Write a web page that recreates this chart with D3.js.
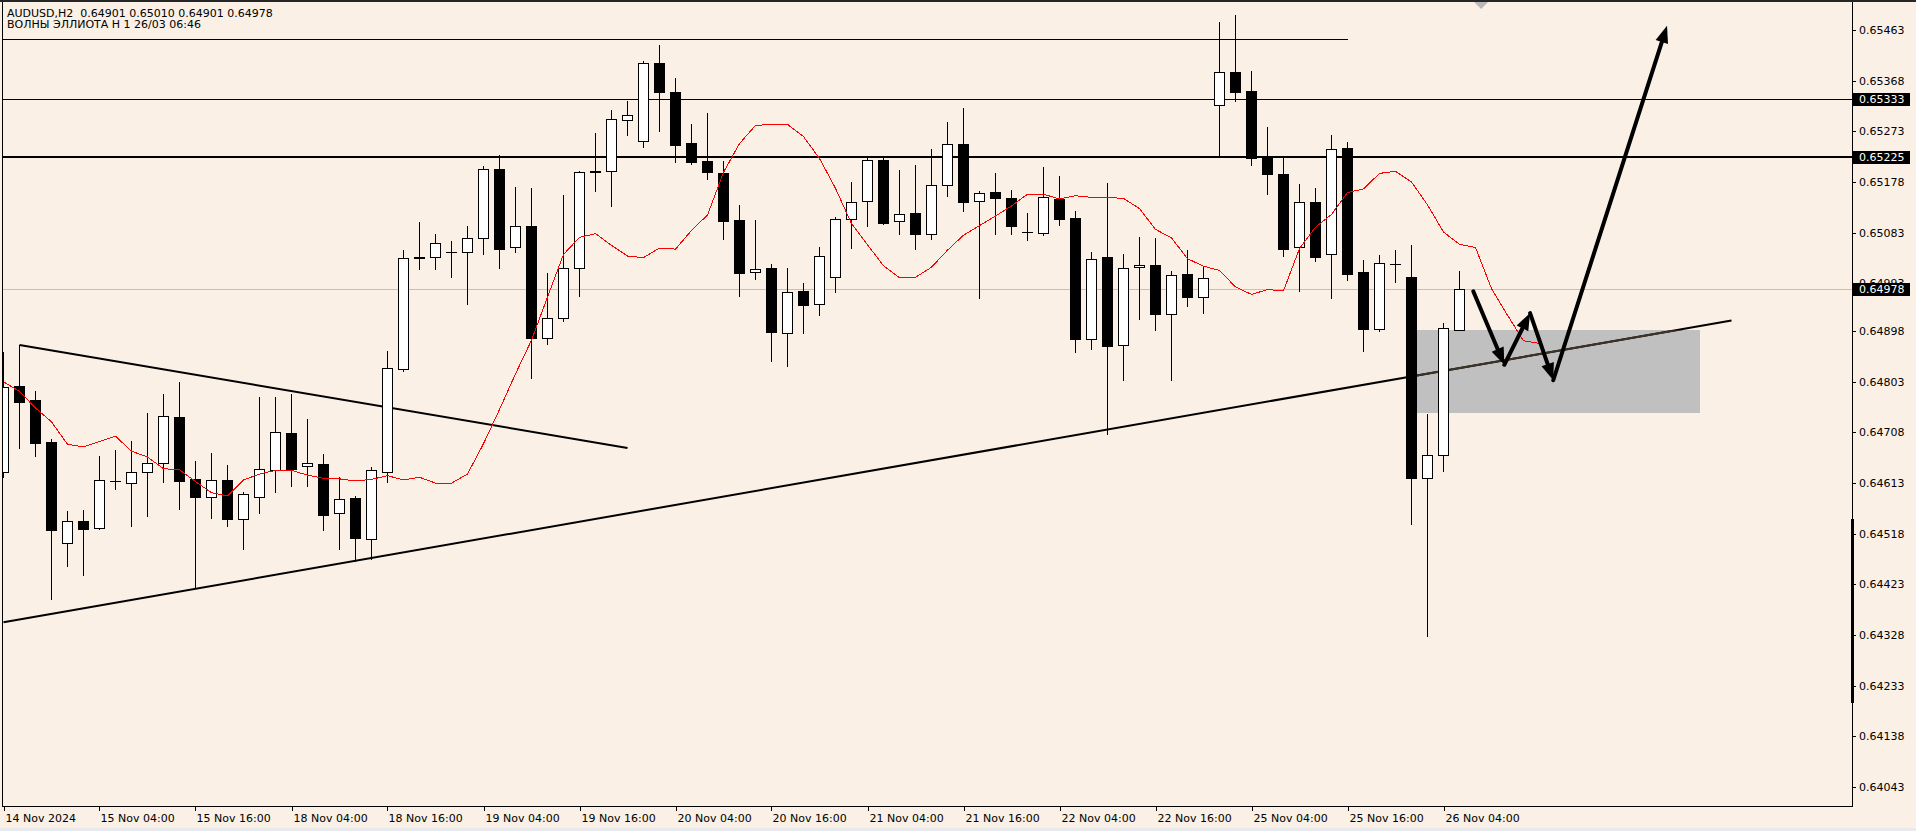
<!DOCTYPE html>
<html><head><meta charset="utf-8">
<script src="https://cdn.jsdelivr.net/npm/d3@7"></script>
<style>
html,body{margin:0;padding:0;background:#faf0e6;overflow:hidden}
svg{display:block}
text{font-family:"DejaVu Sans",sans-serif;font-size:11px;fill:#000}
</style></head><body>
<svg id="c" width="1916" height="831"></svg>
<script>
// ---------- DATA ----------
const header1 = "AUDUSD,H2  0.64901 0.65010 0.64901 0.64978";
const header2 = "ВОЛНЫ ЭЛЛИОТА Н 1 26/03 06:46";

const openP = [0.64634,0.64795,0.64769,0.64690,0.64501,0.64542,0.64529,0.64617,0.64613,0.64634,
0.64651,0.64737,0.64621,0.64587,0.64619,0.64546,0.64587,0.64638,0.64707,0.64645,
0.64649,0.64557,0.64585,0.64508,0.64634,0.64827,0.65037,0.65037,0.65046,0.65046,
0.65073,0.65202,0.65056,0.65095,0.64885,0.64923,0.65017,0.65198,0.65198,0.65294,
0.65255,0.65402,0.65346,0.65251,0.65217,0.65195,0.65107,0.65009,0.65017,0.64895,
0.64973,0.64949,0.65000,0.65108,0.65142,0.65219,0.65105,0.65120,0.65080,0.65172,
0.65249,0.65142,0.65159,0.65148,0.65084,0.65082,0.65146,0.65110,0.64883,0.65037,
0.64872,0.65018,0.65022,0.64930,0.65005,0.64962,0.65322,0.65384,0.65349,0.65225,
0.65193,0.65056,0.65140,0.65043,0.65242,0.65009,0.64902,0.65024,0.65000,0.64623,
0.64666,0.64901];
const highP = [0.64859,0.64872,0.64786,0.64696,0.64561,0.64563,0.64664,0.64675,0.64692,0.64745,
0.64780,0.64803,0.64654,0.64670,0.64647,0.64596,0.64775,0.64775,0.64780,0.64733,
0.64668,0.64625,0.64588,0.64643,0.64861,0.65050,0.65103,0.65080,0.65067,0.65095,
0.65208,0.65228,0.65168,0.65167,0.65007,0.65153,0.65198,0.65270,0.65313,0.65330,
0.65405,0.65435,0.65373,0.65287,0.65308,0.65217,0.65135,0.65107,0.65024,0.65017,
0.64988,0.65056,0.65112,0.65178,0.65223,0.65227,0.65200,0.65210,0.65240,0.65290,
0.65317,0.65161,0.65195,0.65163,0.65120,0.65206,0.65189,0.65123,0.65047,0.65176,
0.65043,0.65075,0.65073,0.65010,0.65050,0.65018,0.65478,0.65491,0.65386,0.65281,
0.65223,0.65175,0.65167,0.65266,0.65253,0.65031,0.65041,0.65050,0.65060,0.64743,
0.64913,0.65010];
const lowP = [0.64625,0.64679,0.64664,0.64396,0.64458,0.64441,0.64527,0.64602,0.64533,0.64551,
0.64615,0.64565,0.64416,0.64548,0.64533,0.64489,0.64557,0.64596,0.64608,0.64608,
0.64525,0.64489,0.64467,0.64471,0.64615,0.64823,0.65015,0.65015,0.64999,0.64949,
0.65043,0.65017,0.65047,0.64811,0.64874,0.64917,0.64964,0.65161,0.65133,0.65266,
0.65244,0.65274,0.65215,0.65212,0.65183,0.65071,0.64964,0.64996,0.64842,0.64833,
0.64895,0.64928,0.64972,0.65054,0.65095,0.65099,0.65080,0.65052,0.65071,0.65152,
0.65123,0.64960,0.65080,0.65080,0.65069,0.65078,0.65097,0.64859,0.64865,0.64705,
0.64806,0.64921,0.64900,0.64806,0.64945,0.64932,0.65229,0.65330,0.65210,0.65155,
0.65040,0.64973,0.65030,0.64960,0.64994,0.64861,0.64898,0.64990,0.64536,0.64327,
0.64636,0.64901];
const closeP = [0.64793,0.64765,0.64688,0.64525,0.64542,0.64527,0.64619,0.64617,0.64634,0.64651,
0.64739,0.64617,0.64587,0.64619,0.64546,0.64593,0.64640,0.64709,0.64640,0.64651,
0.64553,0.64583,0.64510,0.64638,0.64829,0.65035,0.65035,0.65063,0.65046,0.65073,
0.65202,0.65052,0.65095,0.64885,0.64923,0.65017,0.65196,0.65196,0.65296,0.65304,
0.65402,0.65346,0.65248,0.65215,0.65197,0.65105,0.65008,0.65015,0.64896,0.64972,
0.64947,0.65039,0.65108,0.65140,0.65219,0.65101,0.65118,0.65080,0.65172,0.65249,
0.65140,0.65157,0.65148,0.65095,0.65084,0.65150,0.65108,0.64883,0.65033,0.64870,
0.65017,0.65022,0.64930,0.65003,0.64962,0.64998,0.65384,0.65347,0.65223,0.65193,
0.65052,0.65140,0.65037,0.65240,0.65005,0.64902,0.65025,0.65024,0.64623,0.64666,
0.64904,0.64978];

// red moving average (shifted forward, bars 0..96)
const maValues = [0.64803,0.64785,0.64754,0.64728,0.64686,0.64681,0.64691,0.64701,0.64673,0.64662,
0.64640,0.64638,0.64616,0.64595,0.64589,0.64619,0.64630,0.64637,0.64637,0.64628,
0.64622,0.64621,0.64617,0.64620,0.64627,0.64619,0.64624,0.64613,0.64613,0.64630,
0.64687,0.64751,0.64818,0.64881,0.64962,0.65042,0.65074,0.65081,0.65059,0.65039,
0.65036,0.65054,0.65052,0.65087,0.65116,0.65196,0.65250,0.65284,0.65286,0.65286,
0.65263,0.65222,0.65166,0.65100,0.65060,0.65021,0.64998,0.64999,0.65018,0.65050,
0.65078,0.65096,0.65114,0.65133,0.65155,0.65155,0.65146,0.65152,0.65149,0.65149,
0.65147,0.65128,0.65089,0.65073,0.65034,0.65020,0.65012,0.64981,0.64967,0.64976,
0.64974,0.65053,0.65093,0.65117,0.65158,0.65165,0.65194,0.65198,0.65178,0.65135,
0.65084,0.65061,0.65055,0.64978,0.64928,0.64880,0.64875];

const priceTicks = [0.65463,0.65368,0.65273,0.65178,0.65083,0.64988,0.64898,0.64803,
0.64708,0.64613,0.64518,0.64423,0.64328,0.64233,0.64138,0.64043];
const priceTickLabels = ["0.65463","0.65368","0.65273","0.65178","0.65083","0.64993","0.64898","0.64803",
"0.64708","0.64613","0.64518","0.64423","0.64328","0.64233","0.64138","0.64043"];
const markedPrices = [0.65333,0.65225,0.64978];

const timeLabelBars = [0,6,12,18,24,30,36,42,48,54,60,66,72,78,84,90];
const timeLabels = ["14 Nov 2024","15 Nov 04:00","15 Nov 16:00","18 Nov 04:00","18 Nov 16:00",
"19 Nov 04:00","19 Nov 16:00","20 Nov 04:00","20 Nov 16:00","21 Nov 04:00","21 Nov 16:00",
"22 Nov 04:00","22 Nov 16:00","25 Nov 04:00","25 Nov 16:00","26 Nov 04:00"];

// drawn objects
const topLineBars = [-1,84];
const topLinePrice = 0.65447;
const thinLevel = 0.65333;
const thickLevel = 0.65225;
const bidPrice = 0.64978;
const wedgeTop = [[1,0.64872],[39,0.64679]];
const trendLow = [[0,0.64352],[108,0.64918]];
const zoneBars = [88,106];
const zonePrices = [0.64900,0.64745];
const forecastPath = [[91.86,0.64973],[93.8,0.64835],[95.41,0.64932],[96.86,0.64806],[103.97,0.65471]];
const shiftMarkerBar = 92.35;

// ---------- CHART ----------
const W = 1916, H = 831;
const P = {left:2, right:1852, top:2, bottom:806};
const svg = d3.select("#c");

const x = d3.scaleLinear().domain([0,115]).range([3.5, 3.5 + 16*115]);
const y = d3.scaleLinear().domain([0.64043,0.65463]).range([787,30]);
const ry = v => Math.round(y(v));

svg.append("rect").attr("width",W).attr("height",H).attr("fill","#faf0e6");

const defs = svg.append("defs");
defs.append("clipPath").attr("id","plot").append("rect")
  .attr("x",P.left+1).attr("y",P.top).attr("width",P.right-P.left-1).attr("height",P.bottom-P.top);
defs.append("clipPath").attr("id","zone").append("rect")
  .attr("x",x(zoneBars[0])).attr("y",y(zonePrices[0]))
  .attr("width",x(zoneBars[1])-x(zoneBars[0])).attr("height",y(zonePrices[1])-y(zonePrices[0]));

const g = svg.append("g").attr("clip-path","url(#plot)");

// zone rectangle (background)
g.append("rect")
  .attr("x",Math.round(x(zoneBars[0]))).attr("y",ry(zonePrices[0]))
  .attr("width",Math.round(x(zoneBars[1])-x(zoneBars[0])))
  .attr("height",ry(zonePrices[1])-ry(zonePrices[0]))
  .attr("fill","#c0c0c0").attr("shape-rendering","crispEdges");

// horizontal lines
g.append("line").attr("x1",x(topLineBars[0])).attr("x2",x(topLineBars[1]))
  .attr("y1",ry(topLinePrice)+0.5).attr("y2",ry(topLinePrice)+0.5)
  .attr("stroke","#000").attr("stroke-width",1).attr("shape-rendering","crispEdges");
g.append("line").attr("x1",P.left).attr("x2",P.right)
  .attr("y1",ry(thinLevel)+0.5).attr("y2",ry(thinLevel)+0.5)
  .attr("stroke","#000").attr("stroke-width",1).attr("shape-rendering","crispEdges");
g.append("line").attr("x1",P.left).attr("x2",P.right)
  .attr("y1",ry(thickLevel)).attr("y2",ry(thickLevel))
  .attr("stroke","#000").attr("stroke-width",2).attr("shape-rendering","crispEdges");
g.append("line").attr("x1",P.left).attr("x2",P.right)
  .attr("y1",ry(bidPrice)+0.5).attr("y2",ry(bidPrice)+0.5)
  .attr("stroke","#c0c0c0").attr("stroke-width",1).attr("shape-rendering","crispEdges");

// trend lines
const seg = pts => d3.line().x(d=>x(d[0])).y(d=>y(d[1]))(pts);
g.append("path").attr("d",seg(wedgeTop)).attr("fill","none").attr("stroke","#000").attr("stroke-width",2);
g.append("path").attr("d",seg(trendLow)).attr("fill","none").attr("stroke","#000").attr("stroke-width",2);
g.append("path").attr("d",seg(trendLow)).attr("fill","none").attr("stroke","#3d3329").attr("stroke-width",2)
  .attr("clip-path","url(#zone)");

// candles
const bars = openP.map((o,i)=>({i,o,h:highP[i],l:lowP[i],c:closeP[i]}));
const cg = g.append("g").attr("shape-rendering","crispEdges");
bars.forEach(b=>{
  const xc = x(b.i);
  cg.append("line").attr("x1",xc).attr("x2",xc).attr("y1",ry(b.h)).attr("y2",ry(b.l)+1)
    .attr("stroke","#000").attr("stroke-width",1);
  const top = ry(Math.max(b.o,b.c)), bot = ry(Math.min(b.o,b.c));
  if (bot - top < 1) {
    cg.append("line").attr("x1",xc-5.5).attr("x2",xc+5.5).attr("y1",top+0.5).attr("y2",top+0.5)
      .attr("stroke","#000").attr("stroke-width",1);
  } else {
    cg.append("rect").attr("x",xc-5).attr("y",top+0.5).attr("width",10).attr("height",bot-top)
      .attr("fill", b.c>=b.o ? "#fff" : "#000").attr("stroke","#000").attr("stroke-width",1);
  }
});

// moving average
g.append("path").attr("d",d3.line().x((d,i)=>x(i)).y(d=>y(d))(maValues))
  .attr("fill","none").attr("stroke","#ff0000").attr("stroke-width",1).attr("shape-rendering","crispEdges");

// forecast arrows
const headLen = 17, headHalf = 6.5;
for (let k=0;k<forecastPath.length-1;k++){
  const p = [x(forecastPath[k][0]), y(forecastPath[k][1])];
  const q = [x(forecastPath[k+1][0]), y(forecastPath[k+1][1])];
  const dx=q[0]-p[0], dy=q[1]-p[1], L=Math.hypot(dx,dy), ux=dx/L, uy=dy/L;
  const bx=q[0]-ux*headLen, by=q[1]-uy*headLen;
  g.append("line").attr("x1",p[0]).attr("y1",p[1]).attr("x2",bx+ux*2).attr("y2",by+uy*2)
    .attr("stroke","#000").attr("stroke-width",4).attr("stroke-linecap","round");
  g.append("path").attr("d",`M${q[0]},${q[1]}L${bx-uy*headHalf},${by+ux*headHalf}L${bx+uy*headHalf},${by-ux*headHalf}Z`)
    .attr("fill","#000");
}

// chart shift marker
const sx = x(shiftMarkerBar);
svg.append("path").attr("d",`M${sx-7},2L${sx+7},2L${sx},9Z`).attr("fill","#b8b8b8");

// frame
svg.append("rect").attr("x",0).attr("y",0).attr("width",W).attr("height",2).attr("fill","#262626");
svg.append("line").attr("x1",P.left+0.5).attr("x2",P.left+0.5).attr("y1",P.top).attr("y2",P.bottom+1)
  .attr("stroke","#000").attr("shape-rendering","crispEdges");
svg.append("line").attr("x1",P.right+0.5).attr("x2",P.right+0.5).attr("y1",P.top).attr("y2",P.bottom+1)
  .attr("stroke","#000").attr("shape-rendering","crispEdges");
svg.append("line").attr("x1",P.left).attr("x2",P.right+1).attr("y1",P.bottom+0.5).attr("y2",P.bottom+0.5)
  .attr("stroke","#000").attr("shape-rendering","crispEdges");
svg.append("rect").attr("x",P.right-1).attr("y",519).attr("width",3).attr("height",184).attr("fill","#000");

// price axis
const ax = svg.append("g").attr("shape-rendering","crispEdges");
priceTicks.forEach((v,k)=>{
  const yy = ry(v);
  ax.append("line").attr("x1",P.right+1).attr("x2",P.right+4).attr("y1",yy+0.5).attr("y2",yy+0.5).attr("stroke","#000");
  ax.append("text").attr("x",P.right+7).attr("y",yy+4).text(priceTickLabels[k]);
});
markedPrices.forEach(v=>{
  const yy = ry(v);
  ax.append("rect").attr("x",P.right+1).attr("y",yy-6).attr("width",57).attr("height",13).attr("fill","#000");
  ax.append("text").attr("x",P.right+7).attr("y",yy+4).style("fill","#fff").text(d3.format(".5f")(v));
});

// time axis
timeLabelBars.forEach((b,k)=>{
  const xx = Math.round(x(b))+0.5;
  ax.append("line").attr("x1",xx).attr("x2",xx).attr("y1",P.bottom+1).attr("y2",P.bottom+5).attr("stroke","#000");
  svg.append("text").attr("x",xx+1).attr("y",822).text(timeLabels[k]);
});

// bottom strip
svg.append("rect").attr("x",0).attr("y",828).attr("width",W).attr("height",3).attr("fill","#e7e9ec");

// header
svg.append("text").attr("x",7).attr("y",17).attr("xml:space","preserve").text(header1);
svg.append("text").attr("x",7).attr("y",28).text(header2);
</script>
</body></html>
